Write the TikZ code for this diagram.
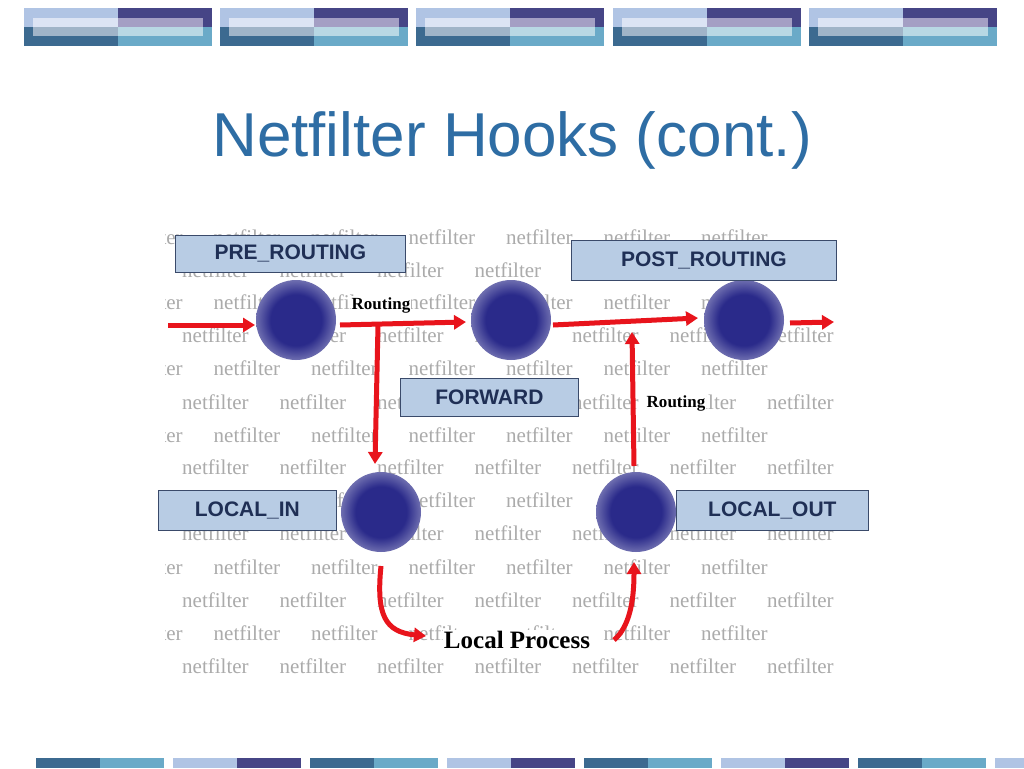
\documentclass[tikz,border=0pt]{standalone}
\usepackage{fontspec}
\setmainfont{Liberation Serif}
\newfontfamily\arialf{Liberation Sans}
\usetikzlibrary{arrows.meta}
\definecolor{tA}{HTML}{B0C4E4}\definecolor{tB}{HTML}{464586}
\definecolor{tC}{HTML}{3C6A90}\definecolor{tD}{HTML}{6AAAC8}
\definecolor{iA}{HTML}{DCE4F4}\definecolor{iB}{HTML}{A49FC4}
\definecolor{iC}{HTML}{A0B4C8}\definecolor{iD}{HTML}{B8D8E4}
\definecolor{titleblue}{HTML}{2E6DA4}
\definecolor{boxfill}{HTML}{B8CCE4}\definecolor{boxline}{HTML}{3A4A6A}
\definecolor{boxtext}{HTML}{1F2F55}
\definecolor{arr}{HTML}{E8141C}\definecolor{dot}{HTML}{2A2A8A}
\definecolor{wm}{HTML}{ABABAB}
\tikzset{
  lab/.style={draw=boxline,line width=0.8pt,fill=boxfill,text=boxtext,font=\arialf\bfseries\fontsize{21}{21}\selectfont,anchor=north west,inner sep=0pt,align=center},
  redarrow/.style={draw=arr,line width=5pt,-{Triangle[length=12pt,width=14pt]}},
  wmk/.style={text=wm,font=\fontsize{21}{21}\selectfont,anchor=west,inner sep=0pt},
}
\pgfdeclareradialshading{blurdot}{\pgfpoint{0cm}{0cm}}{color(0pt)=(dot);color(16pt)=(dot);color(26pt)=(dot!65!white);color(34pt)=(white);color(50pt)=(white)}
\begin{document}
\begin{tikzpicture}[x=1pt,y=-1pt]
\useasboundingbox (0,0) rectangle (1024,768);
\fill[white] (0,0) rectangle (1024,768);
% top tiles
\foreach \x in {24,220,416,613,809}{
  \fill[tA] (\x,8) rectangle ++(94,19);
  \fill[tB] (\x+94,8) rectangle ++(94,19);
  \fill[tC] (\x,27) rectangle ++(94,19);
  \fill[tD] (\x+94,27) rectangle ++(94,19);
  \fill[iA] (\x+9,18) rectangle (\x+94,27);
  \fill[iB] (\x+94,18) rectangle (\x+179,27);
  \fill[iC] (\x+9,27) rectangle (\x+94,36);
  \fill[iD] (\x+94,27) rectangle (\x+179,36);
}
% bottom tiles
\foreach \x/\a/\b in {36/tC/tD,173/tA/tB,310/tC/tD,447/tA/tB,584/tC/tD,721/tA/tB,858/tC/tD,995/tA/tB}{
  \fill[\a] (\x,758) rectangle ++(64,10);
  \fill[\b] (\x+64,758) rectangle ++(64,10);
}
\node[text=titleblue,font=\arialf\fontsize{62}{62}\selectfont] (title) at (512,140) {Netfilter Hooks (cont.)};
% watermark
\begin{scope}
\clip (165,222) rectangle (842,682);
\foreach \y [count=\i] in {237,270,302,335,368,402,435,467,500,533,567,600,633,666}{
  \pgfmathsetmacro{\off}{mod(\i,2)==1 ? 116 : 182}
  \foreach \k in {-1,0,1,2,3,4,5,6}{
    \node[wmk] at (\off+\k*97.5,\y) {netfilter};
  }
}
\end{scope}
% dots
\foreach \n/\x/\y in {d1/296/320,d2/511/320,d3/744/320,d4/381/512,d5/636/512}{
  \shade[shading=blurdot] (\x,\y) circle (40);
  \coordinate (\n) at (\x,\y);
}
% arrows
\coordinate (a0) at (168,325);
\draw[redarrow] (a0) -- (255,325);
\draw[redarrow] (340,325) -- (466,322);
\draw[redarrow] (378,325) -- (375,464);
\draw[redarrow] (553,325) -- (698,318);
\draw[redarrow] (790,323) -- (834,322);
\draw[redarrow] (381,566) .. controls (376,615) and (385,632) .. (426,636);
\draw[redarrow] (614,640) .. controls (628,628) and (634,605) .. (634,562);
\draw[redarrow] (634,466) -- (632,332);
% texts
\node[font=\bfseries\fontsize{17}{17}\selectfont,fill=white,inner sep=1pt] (r1) at (381,305) {Routing};
\node[font=\bfseries\fontsize{17}{17}\selectfont,fill=white,inner sep=1pt] (r2) at (676,403) {Routing};
\node[font=\bfseries\fontsize{25}{25}\selectfont,fill=white,inner sep=1pt] (lp) at (517,640) {Local Process};
% labels
\node[lab,minimum width=230,minimum height=37] (pre) at (175,235) {PRE\_ROUTING};
\node[lab,minimum width=265,minimum height=40] (post) at (571,240) {POST\_ROUTING};
\node[lab,minimum width=178,minimum height=38] (fwd) at (400,378) {FORWARD};
\node[lab,minimum width=178,minimum height=40] (lin) at (158,490) {LOCAL\_IN};
\node[lab,minimum width=192,minimum height=40] (lout) at (676,490) {LOCAL\_OUT};
\end{tikzpicture}
\end{document}
